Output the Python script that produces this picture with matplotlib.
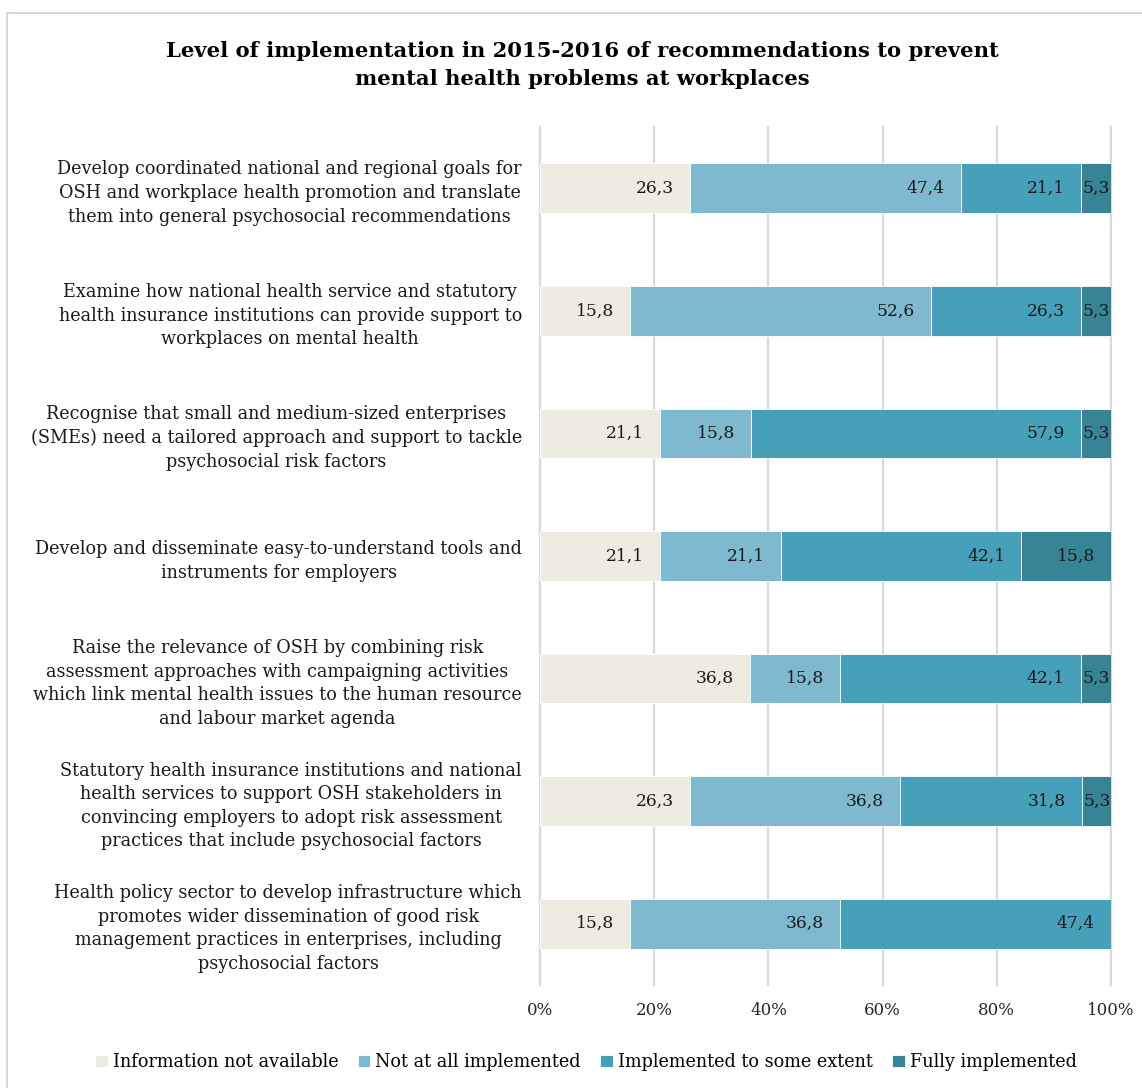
import numpy as np
import matplotlib.pyplot as plt
from matplotlib.patches import Rectangle

# recommendations (one row each, top to bottom)
recommendations = [
    'Develop coordinated national and regional goals for\nOSH and workplace health promotion and translate\nthem into general psychosocial recommendations',
    'Examine how national health service and statutory\nhealth insurance institutions can provide support to\nworkplaces on mental health',
    'Recognise that small and medium-sized enterprises\n(SMEs) need a tailored approach and support to tackle\npsychosocial risk factors',
    'Develop and disseminate easy-to-understand tools and\ninstruments for employers',
    'Raise the relevance of OSH by combining risk\nassessment approaches with campaigning activities\nwhich link mental health issues to the human resource\nand labour market agenda',
    'Statutory health insurance institutions and national\nhealth services to support OSH stakeholders in\nconvincing employers to adopt risk assessment\npractices that include psychosocial factors',
    'Health policy sector to develop infrastructure which\npromotes wider dissemination of good risk\nmanagement practices in enterprises, including\npsychosocial factors',
]

levels = ['Information not available', 'Not at all implemented',
          'Implemented to some extent', 'Fully implemented']

# shares in % per level
not_available = [26.3, 15.8, 21.1, 21.1, 36.8, 26.3, 15.8]
not_at_all = [47.4, 52.6, 15.8, 21.1, 15.8, 36.8, 36.8]
some_extent = [21.1, 26.3, 57.9, 42.1, 42.1, 31.8, 47.4]
fully = [5.3, 5.3, 5.3, 15.8, 5.3, 5.3, 0.0]

colors = ['#EEEBE1', '#7EB9CF', '#47A0BA', '#378497']

plt.rcParams['font.family'] = ['DejaVu Serif']

W, H = 1142, 1088
fig = plt.figure(figsize=(W / 100, H / 100), dpi=100)
# chart area frame, only left and top edges fall inside the image
fig.patches.append(Rectangle((7 / W, -0.2), 1.2, 1.2 - 13 / H, transform=fig.transFigure,
                             fill=False, edgecolor='#D9D9D9', linewidth=1.5))

ax = fig.add_axes([540 / W, 1 - 985 / H, (1111 - 540) / W, (985 - 127) / H])

y = np.arange(len(recommendations))
series = [not_available, not_at_all, some_extent, fully]
left = np.zeros(len(recommendations))
px = 100 / (1111 - 540)  # data units per pixel
for vals, col, name in zip(series, colors, levels):
    vals = np.array(vals)
    ax.barh(y, vals, left=left, height=0.405, color=col, edgecolor='white',
            linewidth=0.6, label=name, zorder=3)
    for yi, l, v in zip(y, left, vals):
        if v <= 0:
            continue
        txt = f'{v:.1f}'.replace('.', ',')
        if v < 8:
            ax.text(l + v / 2, yi, txt, ha='center', va='center', fontsize=12.3,
                    color='#1a1a1a', zorder=4)
        else:
            ax.text(l + v - 16 * px, yi, txt, ha='right', va='center', fontsize=12.3,
                    color='#1a1a1a', zorder=4)
    left += vals

ax.set_xlim(0, 100)
ax.set_ylim(len(recommendations) - 0.5, -0.5)
ax.set_xticks(np.arange(0, 101, 20))
ax.set_xticklabels([f'{t}%' for t in range(0, 101, 20)], fontsize=12, color='#262626')
ax.set_yticks(y)
ax.set_yticklabels(recommendations, multialignment='center', fontsize=12.7, color='#1a1a1a',
                   linespacing=1.4)
ax.tick_params(axis='both', length=0)
ax.tick_params(axis='y', pad=13)
ax.tick_params(axis='x', pad=12)
ax.grid(axis='x', color='#D9D9D9', linewidth=1.6, zorder=0)
for gl in ax.get_xgridlines():
    gl.set_clip_on(False)
for s in ax.spines.values():
    s.set_visible(False)

fig.text(582 / W, 1 - 65 / H,
         'Level of implementation in 2015-2016 of recommendations to prevent\nmental health problems at workplaces',
         ha='center', va='center', fontsize=15.2, fontweight='bold', linespacing=1.5)

fig.legend(loc='center', bbox_to_anchor=(586 / W, 1 - 1062 / H), ncol=4, frameon=False,
           fontsize=12.7, handlelength=0.7, handleheight=0.7, handletextpad=0.3,
           columnspacing=1.1)

fig.savefig('out.png', dpi=100)
